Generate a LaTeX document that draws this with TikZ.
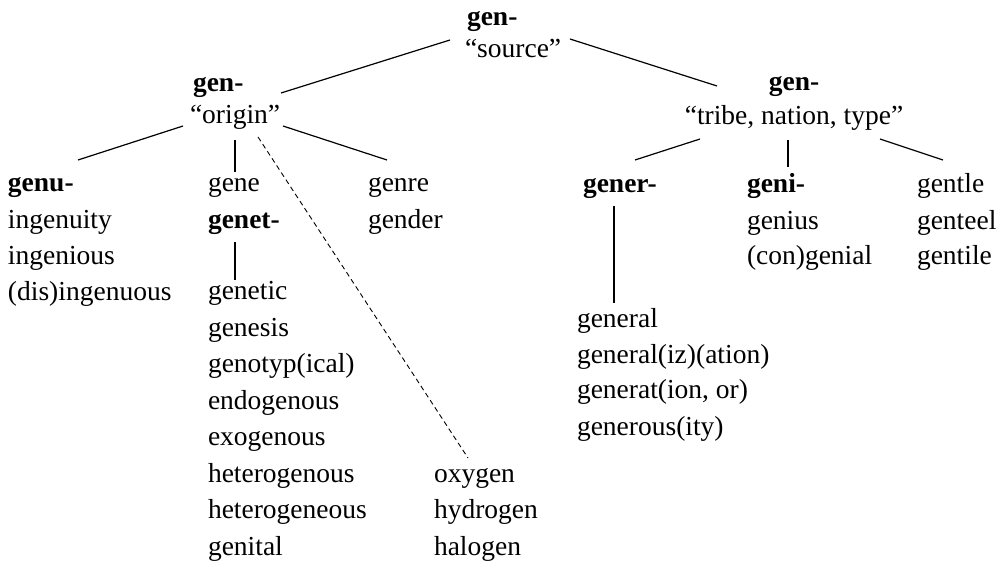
\documentclass[tikz,border=0pt]{standalone}
\usepackage{fontspec}
\setmainfont{Liberation Serif}
\begin{document}
\begin{tikzpicture}[x=1pt,y=-1pt,
  every node/.style={inner sep=0pt,outer sep=0pt,font=\fontsize{27.5}{33}\selectfont},
  lw/.style={anchor=base west},
  lc/.style={anchor=base},
  hd/.style={font=\fontsize{27.5}{33}\selectfont\bfseries},
  edge/.style={draw=black,line width=1.2pt},
  dashedge/.style={draw=black,line width=0.9pt,dash pattern=on 5pt off 3.5pt}]
\useasboundingbox (0,0) rectangle (1005,564);
% root
\node[lw,hd] (r1) at (467,26) {gen-};
\node[lw] (r2) at (465,58) {“source”};
% left level 1
\node[lw,hd] (a1) at (193,92) {gen-};
\node[lw] (a2) at (190,124) {“origin”};
% right level 1
\node[lc,hd] (b1) at (794,91) {gen-};
\node[lc] (b2) at (794,125) {“tribe, nation, type”};
% left leaves
\node[lw,hd] (genu) at (8,192) {genu-};
\node[lw] (ingenuity) at (8,229) {ingenuity};
\node[lw] (ingenious) at (8,265) {ingenious};
\node[lw] (disingenuous) at (8,300.5) {(dis)ingenuous};
\node[lw] (gene) at (208,192) {gene};
\node[lw,hd] (genet) at (208,229) {genet-};
\node[lw] (genetic) at (208,300) {genetic};
\node[lw] (genesis) at (208,336.4) {genesis};
\node[lw] (genotyp) at (208,372.9) {genotyp(ical)};
\node[lw] (endogenous) at (208,409.3) {endogenous};
\node[lw] (exogenous) at (208,445.7) {exogenous};
\node[lw] (heterogenous) at (208,482.1) {heterogenous};
\node[lw] (heterogeneous) at (208,518.6) {heterogeneous};
\node[lw] (genital) at (208,555) {genital};
\node[lw] (genre) at (368,192) {genre};
\node[lw] (gender) at (368,229) {gender};
\node[lw] (oxygen) at (434,482) {oxygen};
\node[lw] (hydrogen) at (434,518.5) {hydrogen};
\node[lw] (halogen) at (434,555) {halogen};
% right leaves
\node[lw,hd] (gener) at (583,193) {gener-};
\node[lw] (general) at (577,327) {general};
\node[lw] (generalization) at (577,363) {general(iz)(ation)};
\node[lw] (generation) at (577,399) {generat(ion, or)};
\node[lw] (generous) at (577,435) {generous(ity)};
\node[lw,hd] (geni) at (747,193) {geni-};
\node[lw] (genius) at (747,229.5) {genius};
\node[lw] (congenial) at (747,265) {(con)genial};
\node[lw] (gentle) at (917,193) {gentle};
\node[lw] (genteel) at (917,229.5) {genteel};
\node[lw] (gentile) at (917,265) {gentile};
% connectors
\draw[edge] ([shift={(-15,-18)}]r2.base west) -- ([shift={(88,1)}]a1.base west);
\draw[edge] ([shift={(105,-19)}]r2.base west) -- ([shift={(-77,-5)}]b1.base);
\draw[edge] ([shift={(-7,2)}]a2.base west) -- ([shift={(70,-32)}]genu.base west);
\draw[edge] ([shift={(45,16)}]a2.base west) -- ([shift={(27,-20)}]gene.base west);
\draw[edge] ([shift={(93,2)}]a2.base west) -- ([shift={(19,-32)}]genre.base west);
\draw[dashedge] ([shift={(68,13)}]a2.base west) -- ([shift={(34,-24)}]oxygen.base west);
\draw[edge] ([shift={(27,13)}]genet.base west) -- ([shift={(27,-20)}]genetic.base west);
\draw[edge] ([shift={(-94,14)}]b2.base) -- ([shift={(52,-33)}]gener.base west);
\draw[edge] ([shift={(-6,15)}]b2.base) -- ([shift={(41,-26)}]geni.base west);
\draw[edge] ([shift={(86,14)}]b2.base) -- ([shift={(26,-33)}]gentle.base west);
\draw[edge] ([shift={(31,13)}]gener.base west) -- ([shift={(37,-24)}]general.base west);
\end{tikzpicture}
\end{document}
